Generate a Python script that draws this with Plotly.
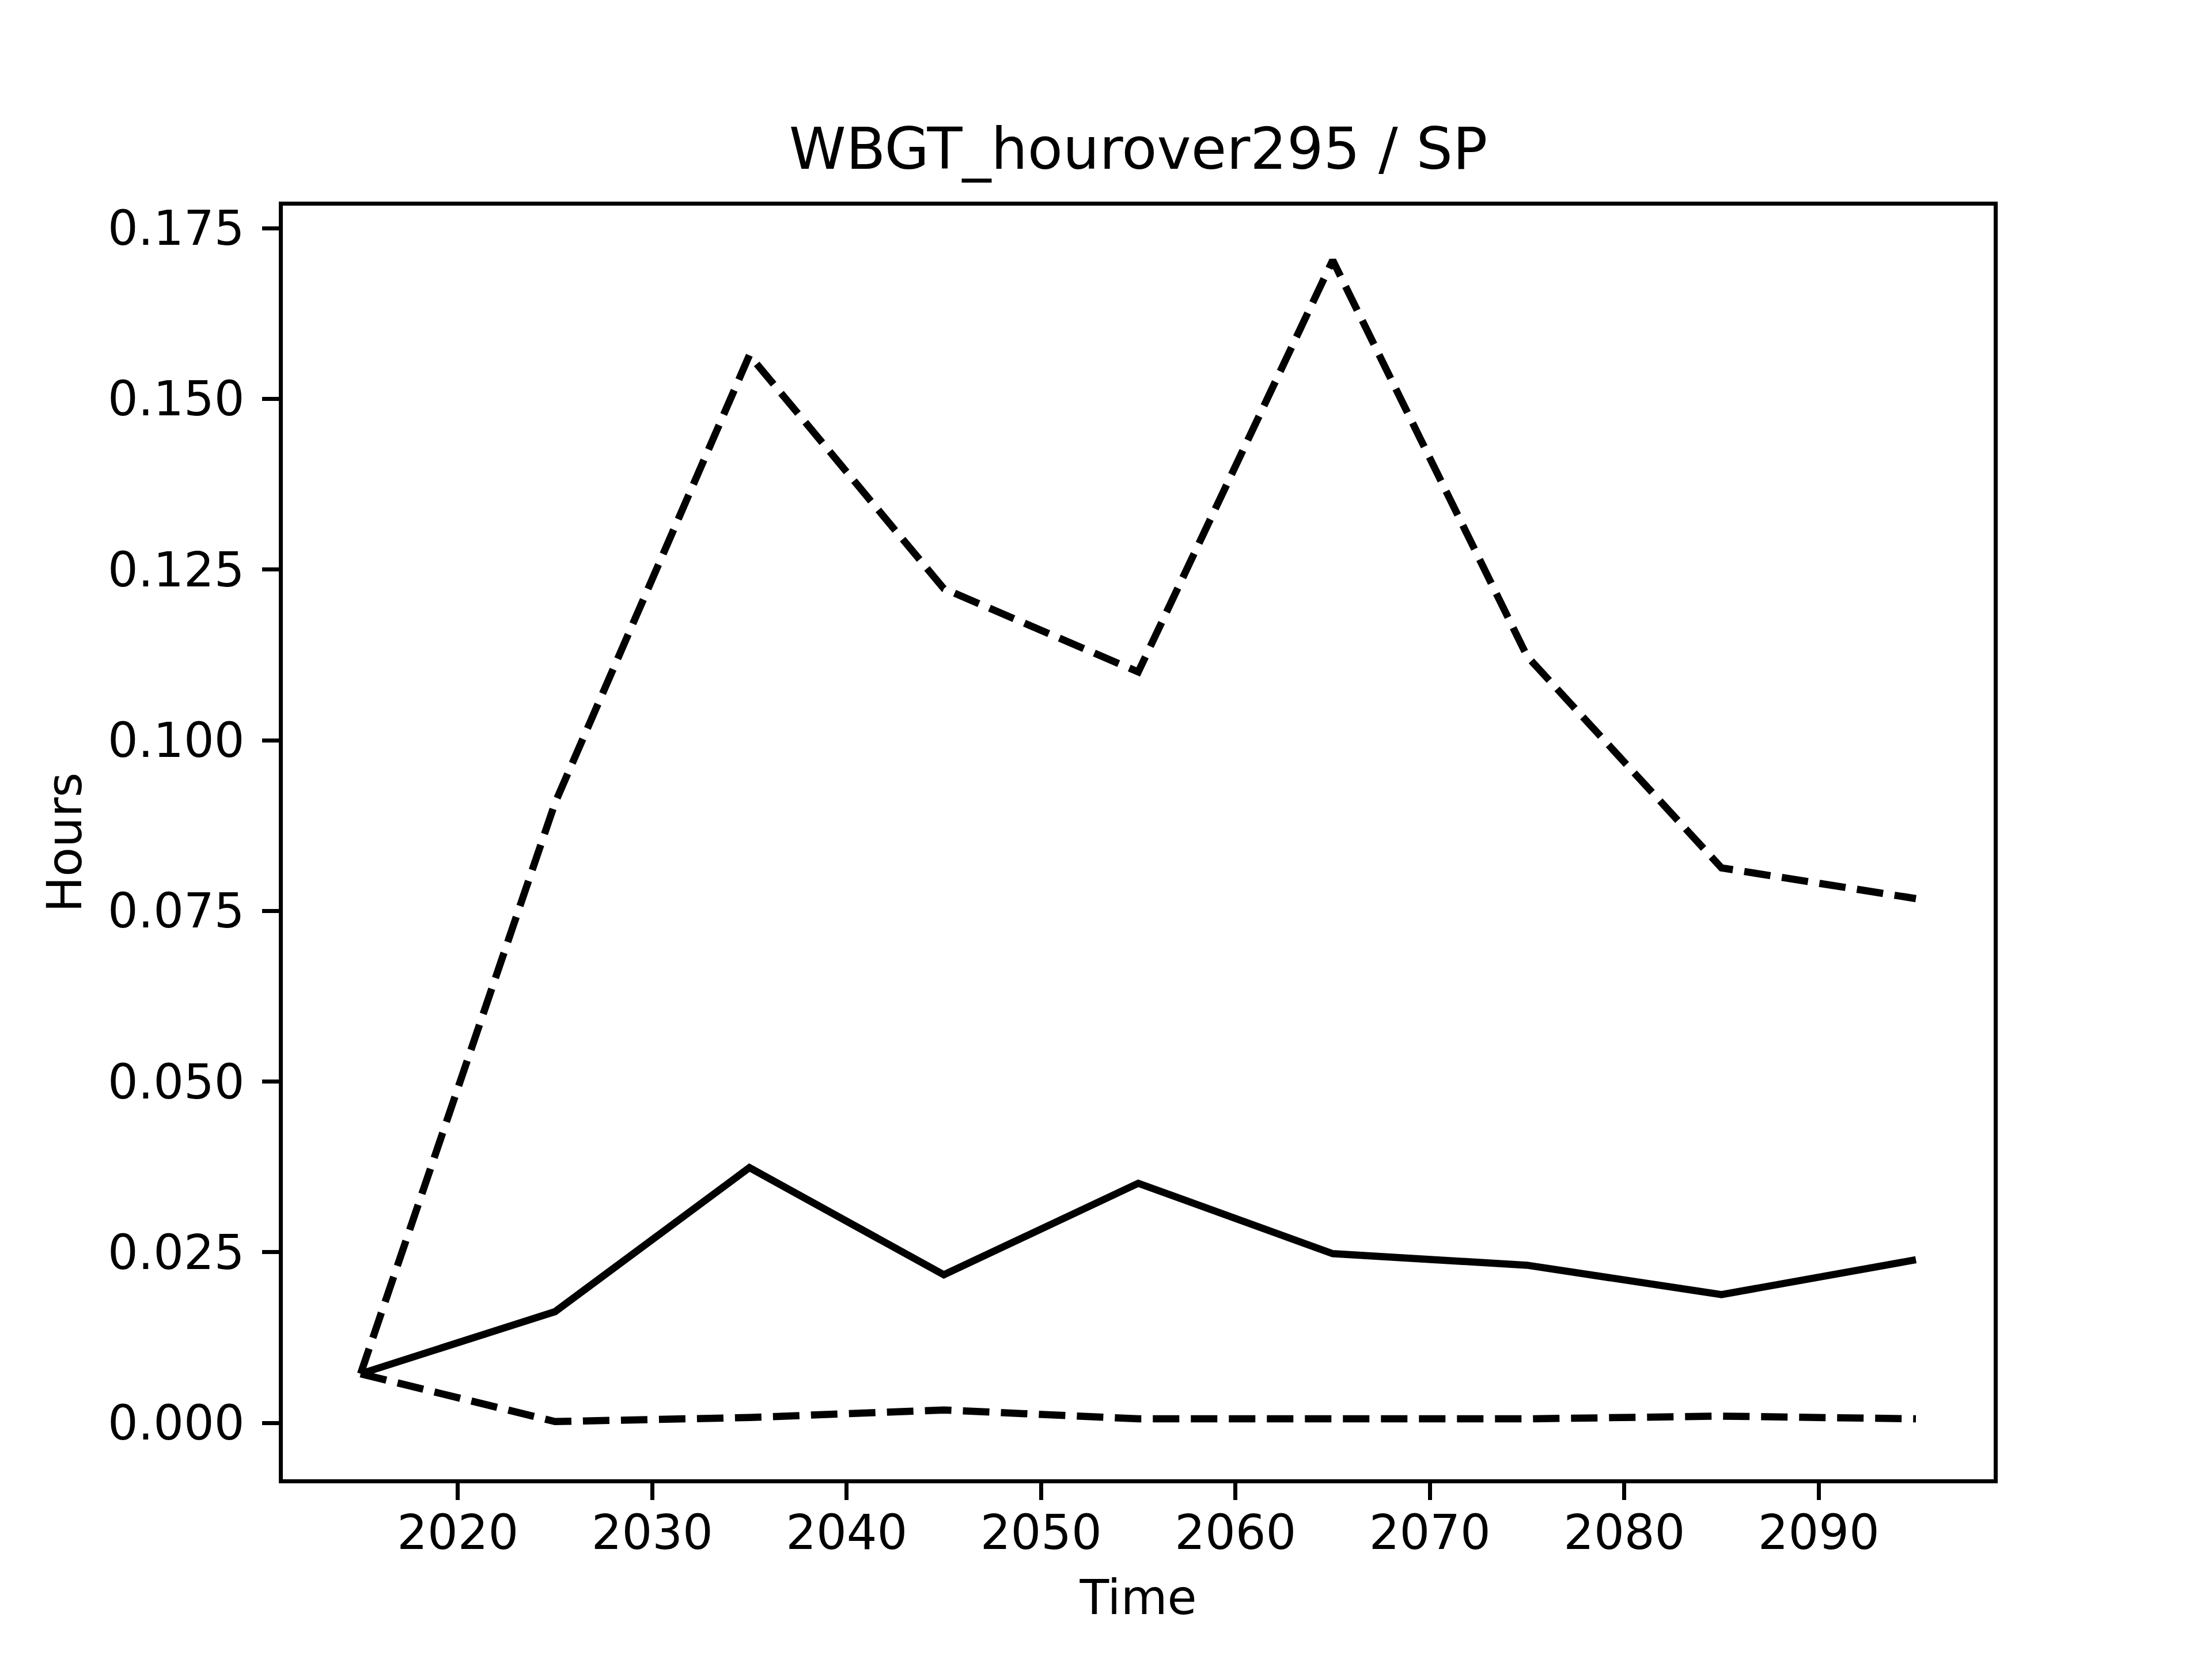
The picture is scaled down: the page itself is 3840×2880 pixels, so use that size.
import plotly.graph_objects as go

years = [2015, 2025, 2035, 2045, 2055, 2065, 2075, 2085, 2095]
mean_vals = [0.0072, 0.0163, 0.0374, 0.0217, 0.0351, 0.0248, 0.0231, 0.0188, 0.0239]
upper_vals = [0.0072, 0.0908, 0.1564, 0.1222, 0.1100, 0.1703, 0.1123, 0.0813, 0.0768]
lower_vals = [0.0072, 0.0002, 0.0008, 0.0019, 0.0006, 0.0006, 0.0006, 0.0010, 0.0006]

title_text = "WBGT_hourover295 / SP"
x_label = "Time"
y_label = "Hours"

W, H = 3840, 2880
FONT = "DejaVu Sans"
LW = 12.5
DASH = "46px,20px"

fig = go.Figure()
fig.add_trace(go.Scatter(x=years, y=mean_vals, mode="lines",
                         line=dict(color="black", width=LW), showlegend=False))
fig.add_trace(go.Scatter(x=years, y=upper_vals, mode="lines",
                         line=dict(color="black", width=LW, dash=DASH), showlegend=False))
fig.add_trace(go.Scatter(x=years, y=lower_vals, mode="lines",
                         line=dict(color="black", width=LW, dash=DASH), showlegend=False))

axis_common = dict(
    showgrid=False, zeroline=False, showline=True, mirror=True,
    linecolor="black", linewidth=6.67,
    ticks="outside", ticklen=29, tickwidth=6.67, tickcolor="black",
    tickfont=dict(family=FONT, size=83, color="black"),
)

fig.update_layout(
    width=W, height=H,
    paper_bgcolor="white", plot_bgcolor="white",
    margin=dict(l=483, r=387, t=349, b=320),
    font=dict(family=FONT, size=83, color="black"),
    title=dict(text=title_text, x=(480 + 3456) / 2 / W, xanchor="center",
               y=1 - 285 / H, yanchor="bottom",
               font=dict(family=FONT, size=100, color="black")),
    xaxis=dict(range=[2011, 2099], tick0=2020, dtick=10,
               ticklabelstandoff=-14,
               title=dict(text=x_label, standoff=38,
                          font=dict(family=FONT, size=83, color="black")),
               **axis_common),
    yaxis=dict(range=[-0.00825, 0.1783], tick0=0, dtick=0.025, tickformat=".3f",
               ticklabelstandoff=14,
               title=dict(text=y_label, standoff=20,
                          font=dict(family=FONT, size=83, color="black")),
               **axis_common),
)

fig.write_html("out.html")
